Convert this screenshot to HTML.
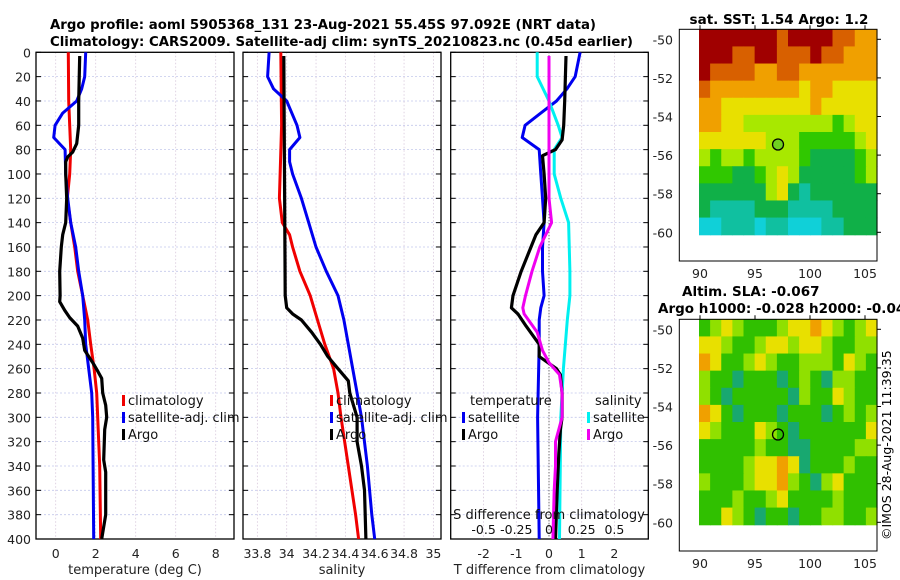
<!DOCTYPE html>
<html><head><meta charset="utf-8">
<style>
html,body{margin:0;padding:0;background:#fff;}
svg{display:block;font-family:"DejaVu Sans","Liberation Sans",sans-serif;}
</style></head>
<body>
<svg id="fig" width="900" height="580" viewBox="0 0 900 580" xmlns="http://www.w3.org/2000/svg">
<text x="50" y="29" font-size="13" font-weight="bold" textLength="546" lengthAdjust="spacingAndGlyphs">Argo profile: aoml 5905368_131 23-Aug-2021 55.45S 97.092E (NRT data)</text>
<text x="50" y="46" font-size="13" font-weight="bold" textLength="583" lengthAdjust="spacingAndGlyphs">Climatology: CARS2009. Satellite-adj clim: synTS_20210823.nc (0.45d earlier)</text>
<text x="779" y="24" font-size="13.5" font-weight="bold" text-anchor="middle">sat. SST: 1.54 Argo: 1.2</text>
<text x="682" y="296" font-size="13.5" font-weight="bold">Altim. SLA: -0.067</text>
<text x="658" y="313" font-size="13.5" font-weight="bold">Argo h1000: -0.028 h2000: -0.04</text>
<text transform="translate(891,540) rotate(-90)" font-size="12.5">©IMOS 28-Aug-2021 11:39:35</text>
</svg>
<script>
// ---------- data ----------
const depthTicks=[0,20,40,60,80,100,120,140,160,180,200,220,240,260,280,300,320,340,360,380,400];
const tempTicks=[0,2,4,6,8];
const salTicks=[33.8,34,34.2,34.4,34.6,34.8,35];
const tdiffTicks=[-2,-1,0,1,2];
const sdiffTicks=[-0.5,-0.25,0,0.25,0.5];
const sdiffTickLabels=["-0.5","-0.25","0","0.25","0.5"];

const tClimDepth=[0,40,80,100,120,140,160,180,200,220,240,260,280,300,340,400];
const tClimVal=[0.63,0.65,0.75,0.7,0.58,0.75,0.95,1.1,1.35,1.6,1.75,1.92,2.05,2.1,2.2,2.25];
const tSatDepth=[0,20,30,40,50,60,70,80,100,120,140,160,180,200,220,240,260,280,300,400];
const tSatVal=[1.5,1.45,1.3,1.05,0.35,-0.03,-0.1,0.47,0.5,0.6,0.75,1.0,1.15,1.35,1.45,1.5,1.65,1.8,1.85,1.9];
const tArgoDepth=[3,40,60,75,82,86,90,100,120,140,150,160,180,200,205,212,218,225,235,245,255,262,268,280,290,300,310,335,345,380,395,400];
const tArgoVal=[1.2,1.15,1.15,1.05,0.85,0.6,0.5,0.5,0.55,0.5,0.35,0.28,0.2,0.22,0.2,0.45,0.7,1.1,1.35,1.45,1.85,2.1,2.3,2.35,2.5,2.55,2.45,2.4,2.5,2.5,2.35,2.3];

const sClimDepth=[0,60,120,140,150,160,180,200,220,240,260,280,300,340,380,400];
const sClimVal=[33.96,33.965,33.95,33.97,34.02,34.04,34.09,34.16,34.21,34.26,34.32,34.35,34.37,34.42,34.47,34.49];
const sSatDepth=[0,20,30,40,60,70,80,90,100,120,140,160,180,200,220,240,260,280,300,340,380,400];
const sSatVal=[33.88,33.87,33.91,34.0,34.07,34.09,34.02,34.02,34.04,34.1,34.15,34.2,34.27,34.35,34.39,34.42,34.45,34.48,34.51,34.55,34.58,34.6];
const sArgoDepth=[3,100,200,210,215,220,230,240,250,260,270,280,300,320,340,360,400];
const sArgoVal=[33.98,33.985,33.99,34.0,34.04,34.1,34.17,34.23,34.28,34.35,34.42,34.43,34.48,34.48,34.51,34.53,34.54];

const dTArgoDepth=[3,20,40,60,72,80,85,100,120,140,150,160,180,200,210,215,225,240,250,260,265,280,300,310,330,360,400];
const dTArgoVal=[0.52,0.5,0.48,0.45,0.4,0.2,-0.2,-0.15,-0.1,-0.15,-0.4,-0.55,-0.85,-1.1,-1.15,-0.95,-0.7,-0.3,-0.3,0.23,0.35,0.4,0.4,0.35,0.3,0.25,0.2];
const dSArgoDepth=[3,120,140,160,180,200,210,215,230,245,255,265,280,300,320,340,360,400];
const dSArgoVal=[0.0,0.0,0.02,-0.07,-0.13,-0.18,-0.2,-0.19,-0.09,-0.05,0.0,0.08,0.1,0.1,0.05,0.05,0.04,0.03];
const dTSatDepth=[0,20,30,40,50,60,70,80,100,120,140,160,180,200,210,220,240,300,400];
const dTSatVal=[0.95,0.8,0.55,0.23,-0.25,-0.73,-0.82,-0.3,-0.25,-0.2,-0.15,-0.2,-0.2,-0.15,-0.25,-0.3,-0.3,-0.35,-0.3];
const dSSatDepth=[0,20,40,60,70,80,100,120,140,180,200,220,260,300,400];
const dSSatVal=[-0.09,-0.09,0.0,0.07,0.1,0.04,0.04,0.09,0.15,0.16,0.16,0.14,0.11,0.09,0.08];

const mapLonTicks=[90,95,100,105];
const mapLatTicks=[-50,-52,-54,-56,-58,-60];
const sstColors=["#a00000","#d86000","#f0a000","#e8e000","#a8e800","#30c800","#10b048","#10c0a0","#10d0d8"];
const sstGrid=[
[0,0,0,0,0,0,0,1,0,0,0,0,1,1,2,2],
[0,0,0,1,1,0,0,1,1,1,0,1,1,2,2,2],
[0,1,1,1,1,2,2,1,1,2,2,2,2,2,2,2],
[1,2,2,2,2,2,2,2,2,3,2,2,3,3,3,3],
[2,2,3,3,3,3,3,3,3,3,2,3,3,3,3,3],
[2,2,3,3,4,4,4,4,4,4,4,4,5,4,3,3],
[3,3,3,3,3,3,4,4,4,5,5,5,5,5,4,3],
[4,5,4,4,5,4,4,4,4,5,6,6,6,6,5,4],
[5,5,5,6,6,5,4,3,4,6,6,6,6,6,5,4],
[6,6,6,6,6,6,4,3,6,7,6,6,6,6,6,6],
[6,7,7,7,7,6,6,6,7,7,7,7,6,6,6,6],
[8,8,7,7,7,8,7,7,8,8,8,7,7,6,6,6]];
const slaColors=["#18a870","#30c000","#90e000","#e8e000","#f0a000"];
const slaGrid=[
[1,2,3,2,1,1,1,2,3,3,4,3,2,1,2,3],
[3,3,2,1,1,2,3,3,2,3,3,2,1,1,2,2],
[4,3,1,1,2,3,2,1,1,2,2,2,1,3,2,1],
[2,1,1,0,1,1,1,0,1,2,1,0,2,2,1,1],
[2,1,0,1,1,1,1,1,0,2,1,1,3,2,1,1],
[4,3,1,0,1,1,1,0,1,1,1,0,1,2,1,2],
[3,2,1,1,1,3,2,1,0,1,1,1,1,1,1,3],
[1,1,1,1,1,2,1,1,0,0,1,1,1,1,2,2],
[1,1,1,1,2,3,3,4,3,0,1,1,1,2,1,1],
[2,1,1,1,2,3,3,4,2,1,0,2,3,1,1,1],
[1,1,1,2,1,1,2,3,1,1,1,1,2,1,1,1],
[1,1,3,2,1,0,1,1,0,1,1,2,2,1,1,2]];
const argoLon=97.092, argoLat=-55.45;

// ---------- drawing ----------
const svg=document.getElementById('fig');
const NS="http://www.w3.org/2000/svg";
function mk(tag,attrs,parent){const e=document.createElementNS(NS,tag);for(const k in attrs)e.setAttribute(k,attrs[k]);(parent||svg).appendChild(e);return e;}
const Y0=52.3,Y1=539;
const yD=d=>Y0+(Y1-Y0)*d/400;

function panel(name,x0,x1,xf,ticks,labels,xlabel){
  const g=mk('g',{});
  
  
  depthTicks.forEach(d=>{
    const l=mk('line',{x1:x0,x2:x1,y1:yD(d),y2:yD(d),stroke:'#c4c8ec','stroke-width':0.8,'stroke-dasharray':'2,2'},g);
    
    
    mk('line',{x1:x0,x2:x0+5,y1:yD(d),y2:yD(d),stroke:'#000'},g);
    mk('line',{x1:x1-5,x2:x1,y1:yD(d),y2:yD(d),stroke:'#000'},g);
  });
  ticks.forEach((t,i)=>{
    const x=xf(t);
    const l=mk('line',{x1:x,x2:x,y1:Y0,y2:Y1,stroke:'#d8c8dc','stroke-width':0.8,'stroke-dasharray':'1.5,2'},g);
    
    
    const tx=mk('text',{x:x,y:558,'font-size':12.5,'text-anchor':'middle',fill:'#222'},g);
    tx.textContent=labels[i];
    
    
  });
  const r=mk('rect',{x:x0,y:Y0,width:x1-x0,height:Y1-Y0,fill:'none',stroke:'#000','stroke-width':1.3},g);
  
  
  const xl=mk('text',{x:(x0+x1)/2,y:574,'font-size':13,'text-anchor':'middle',fill:'#222'},g);
  xl.textContent=xlabel;
  
  
  return g;
}
function line(g,name,depths,vals,xf,color,w,dash){
  const pts=depths.map((d,i)=>xf(vals[i]).toFixed(1)+','+yD(d).toFixed(1)).join(' ');
  const p=mk('polyline',{points:pts,fill:'none',stroke:color,'stroke-width':w||3,'stroke-linejoin':'round'},g);
  if(dash)p.setAttribute('stroke-dasharray',dash);
  
  
}
function legend(g,x,y,color,label,name){
  mk('rect',{x:x,y:y-10,width:3,height:11,fill:color},g);
  const t=mk('text',{x:x+6,y:y,'font-size':13,fill:'#111'},g);
  t.textContent=label;
  
  
}

depthTicks.forEach(d=>{
  const t=mk('text',{x:31,y:yD(d)+5,'font-size':12.5,'text-anchor':'end',fill:'#222'});
  t.textContent=d;
  
  
});

const xT=v=>55.7+20*v;
const p1=panel('temperature-panel',36,234,xT,tempTicks,tempTicks.map(String),'temperature (deg C)');
line(p1,'temp-climatology-line',tClimDepth,tClimVal,xT,'#f00000',3);
line(p1,'temp-satellite-line',tSatDepth,tSatVal,xT,'#0000f0',3);
line(p1,'temp-argo-line',tArgoDepth,tArgoVal,xT,'#000',3.2);
legend(p1,122,405,'#f00000','climatology','legend-climatology');
legend(p1,122,422,'#0000f0','satellite-adj. clim','legend-satellite');
legend(p1,122,439,'#000','Argo','legend-argo');

const xS=v=>286.7+146.7*(v-34);
const p2=panel('salinity-panel',243,441,xS,salTicks,salTicks.map(String),'salinity');
line(p2,'sal-climatology-line',sClimDepth,sClimVal,xS,'#f00000',3);
line(p2,'sal-satellite-line',sSatDepth,sSatVal,xS,'#0000f0',3);
line(p2,'sal-argo-line',sArgoDepth,sArgoVal,xS,'#000',3.2);
legend(p2,330,405,'#f00000','climatology','legend-climatology-2');
legend(p2,330,422,'#0000f0','satellite-adj. clim','legend-satellite-2');
legend(p2,330,439,'#000','Argo','legend-argo-2');

const xDT=v=>549+32.7*v;
const xDS=v=>549+130.8*v;
const p3=panel('difference-panel',450.7,648.3,xDT,tdiffTicks,tdiffTicks.map(String),'T difference from climatology');
const zl=mk('line',{x1:549,x2:549,y1:Y0,y2:Y1,stroke:'#444','stroke-width':1,'stroke-dasharray':'1,2'},p3);


line(p3,'dT-satellite-line',dTSatDepth,dTSatVal,xDT,'#0000f0',3);
line(p3,'dS-satellite-line',dSSatDepth,dSSatVal,xDS,'#00f0f0',3);
line(p3,'dT-argo-line',dTArgoDepth,dTArgoVal,xDT,'#000',3.2);
line(p3,'dS-argo-line',dSArgoDepth,dSArgoVal,xDS,'#f000f0',3);
const st=mk('text',{x:549,y:519,'font-size':13,'text-anchor':'middle',fill:'#111'},p3);
st.textContent='S difference from climatology';


sdiffTicks.forEach((v,i)=>{
  const t=mk('text',{x:xDS(v),y:534,'font-size':12.5,'text-anchor':'middle',fill:'#111'},p3);
  t.textContent=sdiffTickLabels[i];
  
  
});
const lt=mk('text',{x:470,y:405,'font-size':13,fill:'#111'},p3);
lt.textContent='temperature';


const ls=mk('text',{x:595,y:405,'font-size':13,fill:'#111'},p3);
ls.textContent='salinity';


legend(p3,462,422,'#0000f0','satellite','legend-dT-satellite');
legend(p3,462,439,'#000','Argo','legend-dT-argo');
legend(p3,587,422,'#00f0f0','satellite','legend-dS-satellite');
legend(p3,587,439,'#f000f0','Argo','legend-dS-argo');

function map(name,fy0,fy1,lat50y,lat60y,imgBottom,grid,colors,fillMarker){
  const g=mk('g',{});
  
  
  const lonX=v=>700+11*(v-90);
  const latY=v=>lat50y+(lat60y-lat50y)*(-50-v)/10;
  const mx0=699,mx1=877;
  const rows=grid.length,cols=grid[0].length;
  const cw=(mx1-mx0)/cols,ch=(imgBottom-fy0)/rows;
  grid.forEach((row,r)=>row.forEach((v,c)=>{
    const cell=mk('rect',{x:(mx0+c*cw).toFixed(2),y:(fy0+r*ch).toFixed(2),width:(cw+0.6).toFixed(2),height:(ch+0.6).toFixed(2),fill:colors[v]},g);
    
    
  }));
  const fr=mk('rect',{x:679.3,y:fy0,width:877-679.3,height:fy1-fy0,fill:'none',stroke:'#000','stroke-width':1},g);
  
  
  mapLatTicks.forEach(v=>{
    const y=latY(v);
    mk('line',{x1:877,x2:881,y1:y,y2:y,stroke:'#000'},g);
    const t=mk('text',{x:673,y:y+5,'font-size':12.5,'text-anchor':'end',fill:'#222'},g);
    t.textContent=v;
    
    
  });
  mapLonTicks.forEach(v=>{
    const x=lonX(v);
    mk('line',{x1:x,x2:x,y1:fy0-4,y2:fy0,stroke:'#000'},g);
    const t=mk('text',{x:x,y:fy1+17,'font-size':12.5,'text-anchor':'middle',fill:'#222'},g);
    t.textContent=v;
    
    
  });
  const m=mk('circle',{cx:lonX(argoLon),cy:latY(argoLat),r:5.5,fill:fillMarker,stroke:'#000','stroke-width':1.3},g);
  
  
}
map('sst-map',29.3,261,39.3,232.3,234.7,sstGrid,sstColors,'#70d020');
map('sla-map',319.3,551,329.3,522.3,524.7,slaGrid,slaColors,'none');
</script>
</body></html>
